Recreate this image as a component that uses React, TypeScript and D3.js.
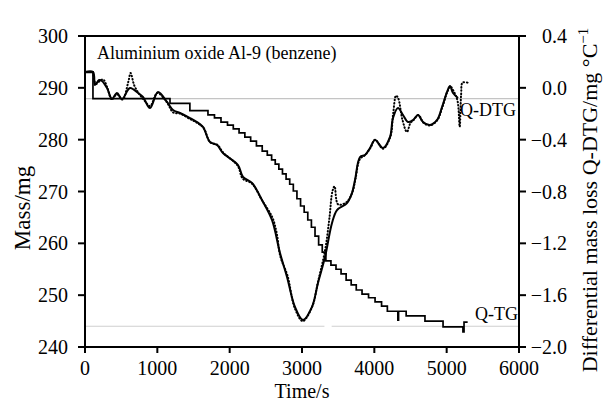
import React from "react"
import * as d3 from "d3"

// Q-TG (mass, left axis) – staircase
const tgTime = [0, 110, 1175, 1450, 1700, 1790, 1880, 1970, 2050, 2130, 2210, 2290, 2370, 2450, 2520, 2580, 2630, 2680, 2730, 2780, 2830, 2880, 2930, 2980, 3030, 3080, 3130, 3180, 3230, 3280, 3330, 3400, 3470, 3540, 3610, 3680, 3750, 3830, 3920, 4010, 4100, 4180, 4325, 4335, 4440, 4700, 4950, 5225, 5240, 5290]
const tgMass = [293, 287.9, 287.0, 285.6, 284.8, 284.2, 283.4, 282.8, 282.1, 281.3, 280.5, 279.7, 278.8, 277.8, 277.0, 276.1, 275.3, 274.3, 273.4, 272.4, 271.4, 270.1, 268.6, 267.2, 266.0, 264.5, 263.1, 261.4, 259.7, 258.3, 256.6, 255.8, 255.0, 254.1, 252.9, 252.0, 251.0, 250.2, 249.5, 248.7, 247.9, 246.9, 245.2, 246.9, 246.0, 245.0, 243.9, 242.9, 244.8, 244.8]

// Q-DTG (right axis) – smoothed line
const dtgTime = [0, 111, 138, 194, 235, 304, 373, 442, 512, 622, 733, 802, 899, 1009, 1134, 1217, 1313, 1452, 1548, 1631, 1728, 1825, 1908, 2115, 2184, 2309, 2447, 2585, 2696, 2793, 2903, 3014, 3138, 3221, 3318, 3415, 3484, 3622, 3691, 3733, 3802, 3871, 3940, 4010, 4120, 4217, 4258, 4327, 4397, 4466, 4535, 4604, 4673, 4770, 4867, 4936, 5005, 5046, 5088, 5157]
const dtgValue = [0.122, 0.122, 0.022, 0.06, 0.053, -0.001, -0.086, -0.04, -0.086, -0.001, -0.04, -0.071, -0.156, -0.032, -0.109, -0.171, -0.194, -0.233, -0.264, -0.302, -0.418, -0.441, -0.503, -0.596, -0.688, -0.734, -0.866, -1.02, -1.275, -1.46, -1.691, -1.792, -1.691, -1.506, -1.306, -1.043, -0.943, -0.889, -0.812, -0.711, -0.534, -0.518, -0.464, -0.403, -0.464, -0.379, -0.233, -0.156, -0.21, -0.264, -0.248, -0.21, -0.264, -0.287, -0.248, -0.148, -0.032, 0.014, -0.04, -0.078]

// Q-DTG raw points (dotted)
const rawTime = [111, 150, 200, 250, 310, 370, 440, 520, 600, 630, 680, 740, 810, 900, 1000, 1130, 1220, 1320, 1450, 1550, 1640, 1730, 1830, 1910, 2110, 2180, 2310, 2450, 2590, 2650, 2700, 2800, 2900, 3010, 3140, 3220, 3320, 3380, 3420, 3450, 3500, 3620, 3700, 3740, 3800, 3870, 3950, 4010, 4120, 4220, 4260, 4300, 4330, 4390, 4450, 4500, 4540, 4610, 4680, 4770, 4870, 4940, 5010, 5050, 5100, 5150, 5180, 5200, 5220, 5290]
const rawValue = [0.122, 0.03, 0.05, 0.065, 0.0, -0.09, -0.05, -0.09, 0.05, 0.114, 0.02, -0.04, -0.09, -0.14, -0.04, -0.11, -0.19, -0.2, -0.24, -0.27, -0.31, -0.42, -0.44, -0.5, -0.6, -0.7, -0.74, -0.87, -1.0, -1.12, -1.3, -1.45, -1.7, -1.8, -1.69, -1.5, -1.25, -1.0, -0.8, -0.76, -0.9, -0.88, -0.8, -0.7, -0.55, -0.52, -0.46, -0.4, -0.47, -0.38, -0.2, -0.06, -0.08, -0.25, -0.34, -0.27, -0.25, -0.21, -0.27, -0.29, -0.25, -0.15, -0.03, 0.01, -0.03, -0.1, -0.3, -0.05, 0.04, 0.04]

const xTicks = [0, 1000, 2000, 3000, 4000, 5000, 6000]
const massTicks = [240, 250, 260, 270, 280, 290, 300]
const dtgTicks = [-2.0, -1.6, -1.2, -0.8, -0.4, 0.0, 0.4]
const baseLines = [287.9, 244.0]

const W = 604, H = 402
const left = 85, right = 519, top = 36, bottom = 347
const font = "'Liberation Serif', 'Times New Roman', serif"

export default function App() {
  const x = d3.scaleLinear().domain([0, 6000]).range([left, right])
  const yM = d3.scaleLinear().domain([240, 300]).range([bottom, top])
  const yD = d3.scaleLinear().domain([-2.0, 0.4]).range([bottom, top])
  const fmt = d3.format(".1f")

  const tgLine = d3.line<number>().x((_, i) => x(tgTime[i])).y(d => yM(d)).curve(d3.curveStepAfter)
  const dtgLine = d3.line<number>().x((_, i) => x(dtgTime[i])).y(d => yD(d)).curve(d3.curveCatmullRom.alpha(0.5))
  const rawLine = d3.line<number>().x((_, i) => x(rawTime[i])).y(d => yD(d)).curve(d3.curveCatmullRom.alpha(0.5))

  return (
    <svg width={W} height={H} style={{ position: "absolute", left: 0, top: 0, background: "#fff" }} fontFamily={font}>
      {/* thin grey base lines */}
      <line x1={left} x2={right} y1={yM(baseLines[0])} y2={yM(baseLines[0])} stroke="#c4c4c4" strokeWidth={1.2} />
      <line x1={left} x2={x(3310)} y1={yM(baseLines[1])} y2={yM(baseLines[1])} stroke="#cfcfcf" strokeWidth={1.2} />
      <line x1={x(3410)} x2={right} y1={yM(baseLines[1])} y2={yM(baseLines[1])} stroke="#cfcfcf" strokeWidth={1.2} />

      {/* curves */}
      <path d={rawLine(rawValue) || ""} fill="none" stroke="#000" strokeWidth={2} strokeDasharray="0.6 2.6" strokeLinecap="round" />
      <path d={dtgLine(dtgValue) || ""} fill="none" stroke="#000" strokeWidth={2} />
      <path d={tgLine(tgMass) || ""} fill="none" stroke="#000" strokeWidth={1.7} />

      {/* frame */}
      <line x1={left} x2={right} y1={top} y2={top} stroke="#000" strokeWidth={2} />
      <line x1={left} x2={right} y1={bottom} y2={bottom} stroke="#000" strokeWidth={2} />
      <line x1={left} x2={left} y1={top - 1} y2={bottom + 1} stroke="#000" strokeWidth={2} />
      <line x1={right} x2={right} y1={top - 1} y2={bottom + 1} stroke="#000" strokeWidth={2} />

      {/* x axis */}
      {xTicks.map(t => (
        <g key={"x" + t}>
          <line x1={x(t)} x2={x(t)} y1={bottom} y2={bottom + 6} stroke="#000" strokeWidth={2} />
          <text x={x(t)} y={375} fontSize={20} textAnchor="middle">{t}</text>
        </g>
      ))}
      <text x={(left + right) / 2} y={398} fontSize={20} textAnchor="middle">Time/s</text>

      {/* left axis */}
      {massTicks.map(t => (
        <g key={"m" + t}>
          <line x1={left - 7} x2={left} y1={yM(t)} y2={yM(t)} stroke="#000" strokeWidth={2} />
          <text x={68} y={yM(t) + 7} fontSize={20} textAnchor="end">{t}</text>
        </g>
      ))}
      <text transform={`translate(30,208) rotate(-90)`} fontSize={23} textAnchor="middle">Mass/mg</text>

      {/* right axis */}
      {dtgTicks.map(t => (
        <g key={"d" + t}>
          <line x1={right} x2={right + 7} y1={yD(t)} y2={yD(t)} stroke="#000" strokeWidth={2} />
          <text x={567} y={yD(t) + 7} fontSize={20} textAnchor="end">{fmt(t)}</text>
        </g>
      ))}
      <text transform={`translate(597,200) rotate(-90)`} fontSize={22} textAnchor="middle">
        Differential mass loss Q-DTG/mg °C<tspan dy={-9} fontSize={15}>−1</tspan>
      </text>

      {/* labels */}
      <text x={97} y={59} fontSize={18}>Aluminium oxide Al-9 (benzene)</text>
      <text x={460} y={116} fontSize={18}>Q-DTG</text>
      <text x={475} y={320} fontSize={18}>Q-TG</text>
    </svg>
  )
}
